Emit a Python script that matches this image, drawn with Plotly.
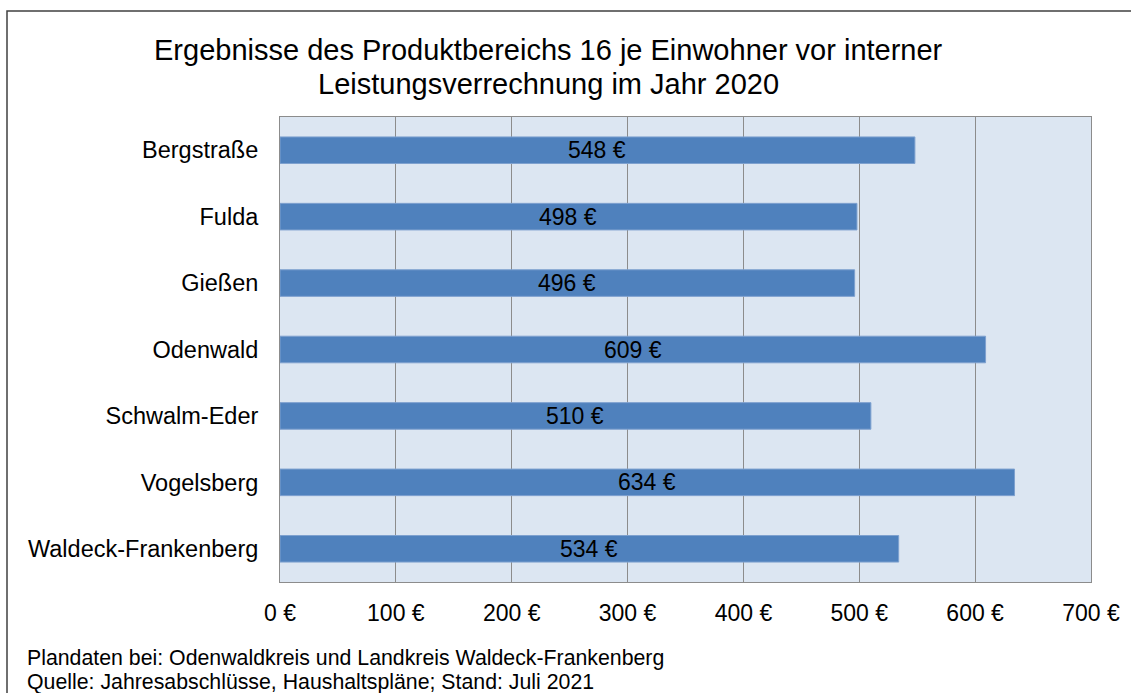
import plotly.graph_objects as go

categories = ["Bergstraße", "Fulda", "Gießen", "Odenwald", "Schwalm-Eder", "Vogelsberg", "Waldeck-Frankenberg"]
values = [548, 498, 496, 609, 510, 634, 534]
tick_vals = [0, 100, 200, 300, 400, 500, 600, 700]
tick_text = ["0 €", "100 €", "200 €", "300 €", "400 €", "500 €", "600 €", "700 €"]
title_lines = ["Ergebnisse des Produktbereichs 16 je Einwohner vor interner",
               "Leistungsverrechnung im Jahr 2020"]
footer_lines = ["Plandaten bei: Odenwaldkreis und Landkreis Waldeck-Frankenberg",
                "Quelle: Jahresabschlüsse, Haushaltspläne; Stand: Juli 2021"]

FONT = "Liberation Sans, Arial"
W, H = 1131, 693
L, R, T, B = 280, 40, 117, 111
pw, ph = W - L - R, H - T - B


def px(x):
    return (x - L) / pw


def py(y):
    return (H - B - y) / ph


fig = go.Figure()
fig.add_trace(go.Bar(
    x=values, y=categories, orientation="h",
    marker=dict(color="#4f81bd", line=dict(color="#7ea1cf", width=1)),
    width=0.4, hoverinfo="x+y",
))

# Value labels centered inside bars
for cat, v in zip(categories, values):
    fig.add_annotation(x=v / 2, y=cat, text=f"{v} €", showarrow=False,
                       xanchor="center", yanchor="middle", yshift=0,
                       font=dict(family=FONT, size=23, color="black"))

fig.update_layout(
    width=W, height=H,
    margin=dict(l=L, r=R, t=T, b=B),
    paper_bgcolor="white", plot_bgcolor="#dce6f2",
    font=dict(family=FONT, color="black"),
    showlegend=False,
    xaxis=dict(
        range=[0, 700], tickvals=tick_vals, ticktext=tick_text,
        showgrid=True, gridcolor="#8c8c8c", gridwidth=1,
        zeroline=False, showline=True, linecolor="#8c8c8c", linewidth=1, mirror=True,
        tickfont=dict(size=23), ticks="", ticklabelstandoff=10,
        fixedrange=True,
    ),
    yaxis=dict(
        autorange="reversed", showgrid=False, zeroline=False,
        showline=True, linecolor="#8c8c8c", linewidth=1, mirror=True,
        tickfont=dict(size=23.5), ticks="", ticklabelstandoff=16,
    ),
    bargap=0.6,
)

# Title lines
for text, yc in zip(title_lines, [50, 84]):
    fig.add_annotation(text=text, xref="paper", yref="paper", x=px(548), y=py(yc),
                       xanchor="center", yanchor="middle", showarrow=False,
                       font=dict(size=29, family=FONT, color="black"))

# Footer lines
for text, yc in zip(footer_lines, [658, 682]):
    fig.add_annotation(text=text, xref="paper", yref="paper", x=px(25), y=py(yc),
                       xanchor="left", yanchor="middle", showarrow=False,
                       font=dict(size=21.3, family=FONT, color="black"))

# Outer border (frame of the chart)
fig.add_shape(type="rect", xref="paper", yref="paper",
              x0=px(7), x1=px(1200), y0=py(760), y1=py(11),
              line=dict(color="#404040", width=1.5), fillcolor="rgba(0,0,0,0)", layer="above")

fig.write_html("out.html", config={"displayModeBar": False},
               post_script="document.body.style.margin='0';document.body.style.overflow='hidden';")
